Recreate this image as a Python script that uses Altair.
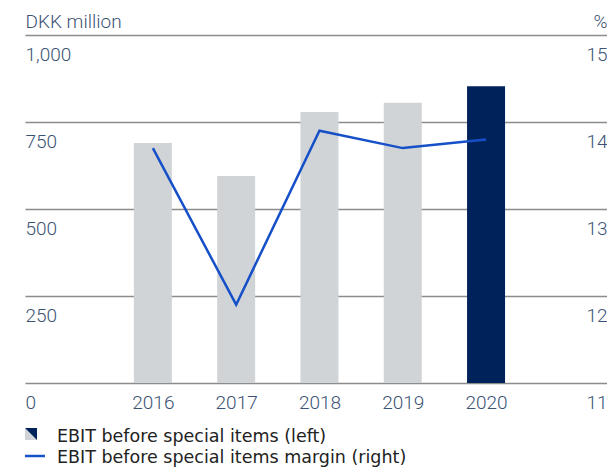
import altair as alt
import pandas as pd

years = [2016, 2017, 2018, 2019, 2020]
ebit = [690, 595, 779, 805, 853]
margin = [13.70, 11.90, 13.90, 13.70, 13.80]
bar_colors = ["#d1d4d6", "#d1d4d6", "#d1d4d6", "#d1d4d6", "#00225a"]
left_ticks = [0, 250, 500, 750, 1000]
right_ticks = [11, 12, 13, 14, 15]
legend_labels = ["EBIT before special items (left)", "EBIT before special items margin (right)"]

NAVY = "#00225a"
GREY = "#d1d4d6"
BLUE = "#1550c8"
LABEL = "#3b5274"
FONT = "Roboto"
LFONT = "DejaVu Sans"

df = pd.DataFrame({"year": years, "ebit": ebit, "margin": margin, "color": bar_colors})
one = pd.DataFrame({"k": [0]})

x = alt.X(
    "year:Q",
    scale=alt.Scale(domain=[2014.525, 2021.392], nice=False, zero=False),
    axis=alt.Axis(values=years, format="d", title=None, grid=False, domain=False,
                  ticks=False, tickSize=0, labelPadding=25, labelBaseline="alphabetic",
                  labelFlush=False, labelFontSize=19, labelFont=FONT, labelFontWeight=300,
                  labelColor=LABEL),
)

bars = alt.Chart(df).mark_bar(size=38).encode(
    x=x,
    y=alt.Y(
        "ebit:Q",
        scale=alt.Scale(domain=[0, 1000], nice=False),
        axis=alt.Axis(values=left_ticks, format=",d", title="DKK million", titleAngle=0,
                      titleAlign="left", titleBaseline="alphabetic", titleX=0, titleY=-8,
                      titleFontSize=19, titleFont=FONT, titleFontWeight=300, titleColor=LABEL,
                      labelAlign="left", labelBaseline="alphabetic", labelPadding=0,
                      labelOffset=25, ticks=False, tickSize=0, domain=False, grid=True,
                      gridColor="#8c8c8c", gridWidth=1.5, labelFontSize=19, labelFont=FONT,
                      labelFontWeight=300, labelColor=LABEL, labelFlush=False),
    ),
    color=alt.Color("color:N", scale=None),
)

line = alt.Chart(df).mark_line(color=BLUE, strokeWidth=2.5).encode(
    x=x,
    y=alt.Y(
        "margin:Q",
        scale=alt.Scale(domain=[11, 15], nice=False, zero=False),
        axis=alt.Axis(orient="right", values=right_ticks, format="d", title="%", titleAngle=0,
                      titleAlign="right", titleBaseline="alphabetic", titleX=0, titleY=-8,
                      titleFontSize=19, titleFont=FONT, titleFontWeight=300, titleColor=LABEL,
                      labelAlign="right", labelBaseline="alphabetic", labelPadding=0,
                      labelOffset=25, ticks=False, tickSize=0, domain=False, grid=False,
                      labelFontSize=19, labelFont=FONT, labelFontWeight=300, labelColor=LABEL,
                      labelFlush=False),
    ),
)

tri_navy = alt.Chart(one).mark_point(shape="M-1,-1L1,-1L1,1Z", filled=True, size=144,
                                     color=NAVY, opacity=1, strokeWidth=0).encode(
    x=alt.value(6), y=alt.value(399))
tri_grey = alt.Chart(one).mark_point(shape="M-1,-1L-1,1L1,1Z", filled=True, size=144,
                                     color=GREY, opacity=1, strokeWidth=0).encode(
    x=alt.value(6), y=alt.value(399))
leg_rule = alt.Chart(one).mark_rule(color=BLUE, strokeWidth=2.5).encode(
    x=alt.value(0), x2=alt.value(20), y=alt.value(421))
leg_t1 = alt.Chart(one).mark_text(align="left", baseline="alphabetic", fontSize=17.5, font=LFONT,
                                  color="#222222").encode(
    x=alt.value(32), y=alt.value(407), text=alt.value(legend_labels[0]))
leg_t2 = alt.Chart(one).mark_text(align="left", baseline="alphabetic", fontSize=17.5, font=LFONT,
                                  color="#222222").encode(
    x=alt.value(32), y=alt.value(428), text=alt.value(legend_labels[1]))

chart = alt.layer(bars, line).resolve_scale(y="independent")
chart = alt.layer(chart, tri_grey, tri_navy, leg_rule, leg_t1, leg_t2).properties(
    width=582, height=348,
    autosize=alt.AutoSizeParams(type="none"),
    padding={"left": 17, "top": 27, "right": 0, "bottom": 84},
).configure_view(stroke=None)

chart.save("out.html", embed_options={"renderer": "svg", "actions": False})
